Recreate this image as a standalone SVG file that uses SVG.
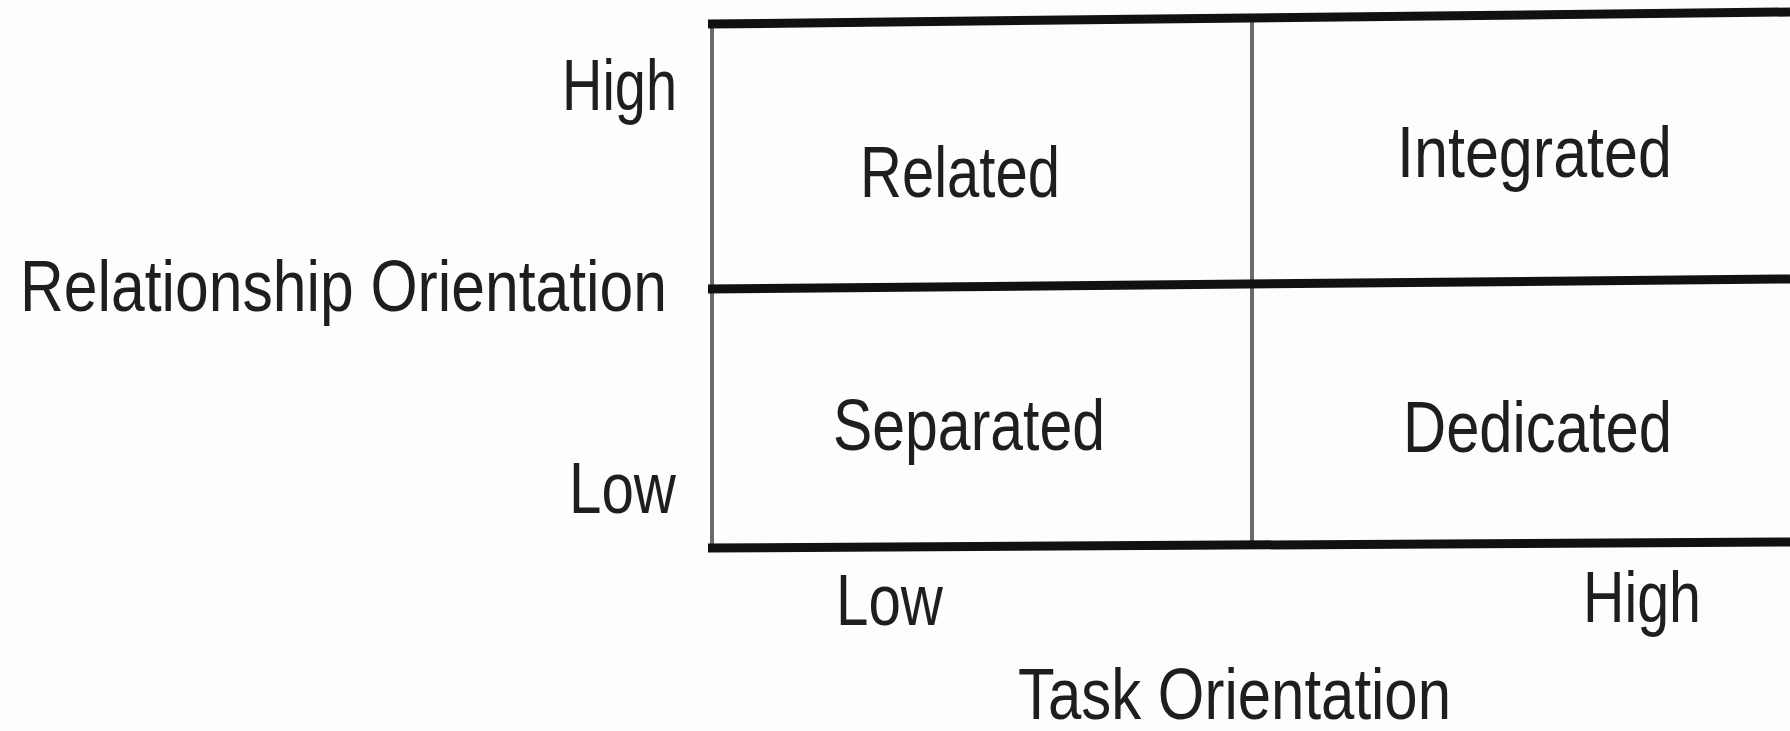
<svg xmlns="http://www.w3.org/2000/svg" width="1790" height="731" viewBox="0 0 1790 731">
  <style>
    .lbl { font-family: "Liberation Sans", Arial, sans-serif; font-size: 72px; fill: #1e1e1e; }
    .rule { stroke: #111; stroke-width: 9; stroke-linecap: butt; fill: none; }
    .divider { stroke: #6a6a6a; stroke-width: 4; fill: none; }
  </style>
  <rect x="0" y="0" width="1790" height="731" fill="#fdfdfb"/>

  <!-- quadrant grid: heavy horizontal rules, light vertical dividers -->
  <g id="grid">
    <line class="divider" x1="712" y1="24" x2="712" y2="548"/>
    <line class="divider" x1="1252" y1="20" x2="1252" y2="546"/>
    <line class="rule" x1="708" y1="24" x2="1790" y2="12"/>
    <line class="rule" x1="708" y1="289" x2="1790" y2="279"/>
    <line class="rule" x1="708" y1="548" x2="1790" y2="542"/>
  </g>

  <!-- quadrants -->
  <g id="related">
    <text class="lbl" x="860" y="197" textLength="200" lengthAdjust="spacingAndGlyphs">Related</text>
  </g>
  <g id="integrated">
    <text class="lbl" x="1397" y="177" textLength="275" lengthAdjust="spacingAndGlyphs">Integrated</text>
  </g>
  <g id="separated">
    <text class="lbl" x="833" y="450" textLength="272" lengthAdjust="spacingAndGlyphs">Separated</text>
  </g>
  <g id="dedicated">
    <text class="lbl" x="1403" y="452" textLength="269" lengthAdjust="spacingAndGlyphs">Dedicated</text>
  </g>

  <!-- vertical axis -->
  <g id="y-axis">
    <text class="lbl" x="562" y="110" textLength="115" lengthAdjust="spacingAndGlyphs">High</text>
    <text class="lbl" x="20" y="311" textLength="647" lengthAdjust="spacingAndGlyphs">Relationship Orientation</text>
    <text class="lbl" x="569" y="513" textLength="107" lengthAdjust="spacingAndGlyphs">Low</text>
  </g>

  <!-- horizontal axis -->
  <g id="x-axis">
    <text class="lbl" x="836" y="625" textLength="107" lengthAdjust="spacingAndGlyphs">Low</text>
    <text class="lbl" x="1583" y="622" textLength="118" lengthAdjust="spacingAndGlyphs">High</text>
    <text class="lbl" x="1018" y="719" textLength="433" lengthAdjust="spacingAndGlyphs">Task Orientation</text>
  </g>
</svg>
